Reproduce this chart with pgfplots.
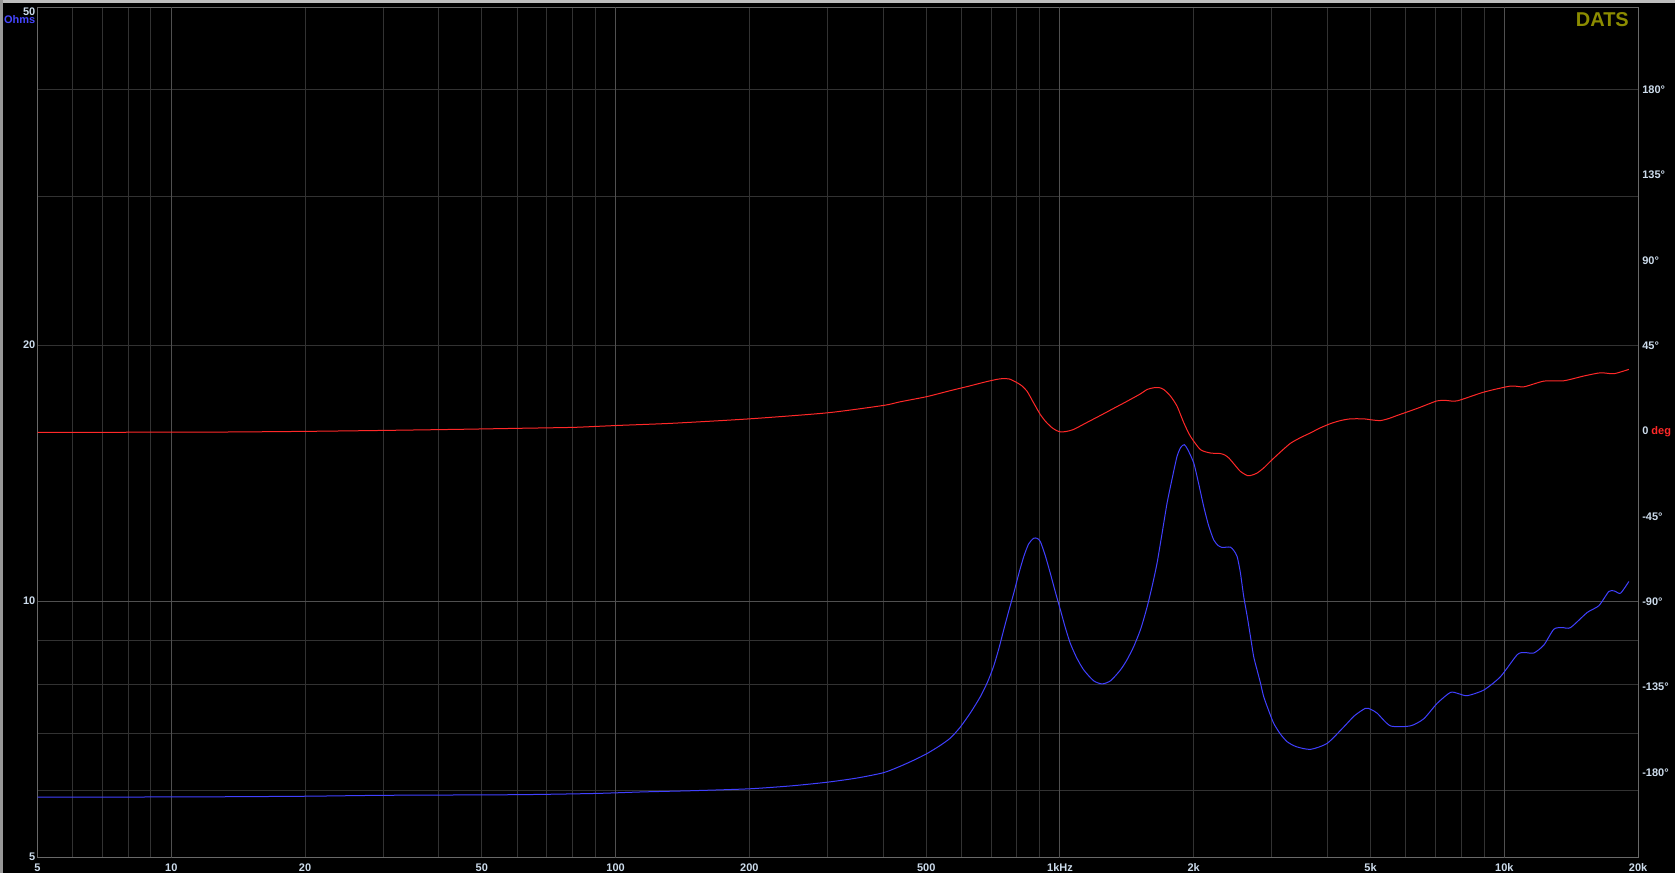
\documentclass[border=0pt]{standalone}
\usepackage{pgfplots}
\pgfplotsset{compat=1.18}
\usepackage{fontspec}
\setmainfont{Liberation Sans}
\definecolor{gridminor}{RGB}{50,50,50}
\definecolor{gridmajor}{RGB}{80,80,80}
\definecolor{framegray}{RGB}{105,105,105}
\definecolor{impblue}{RGB}{64,64,255}
\definecolor{phasered}{RGB}{255,40,40}
\definecolor{labelcol}{RGB}{205,220,236}
\definecolor{ohmsblue}{RGB}{70,70,255}
\definecolor{datscol}{RGB}{140,140,0}
\definecolor{chrome}{RGB}{190,190,190}
\newcommand\lblfont{\fontsize{11}{13}\selectfont\bfseries}

\pgfplotstableread{
f z
5 5.895
11.5 5.90
20 5.91
30 5.925
60 5.935
90 5.955
115 5.98
150 6.00
200 6.03
250 6.08
300 6.14
350 6.21
401 6.30
437 6.41
470 6.52
501 6.63
535 6.77
567 6.92
597 7.13
630 7.42
662 7.74
687 8.05
709 8.40
728 8.80
747 9.27
767 9.76
787 10.24
808 10.80
829 11.31
850 11.70
872 11.88
888 11.88
903 11.78
926 11.35
951 10.81
976 10.28
1002 9.79
1028 9.33
1055 8.94
1090 8.60
1131 8.32
1190 8.08
1244 8.01
1300 8.08
1368 8.32
1415 8.55
1465 8.86
1520 9.30
1571 9.87
1613 10.45
1654 11.11
1700 12.1
1742 13.07
1790 14.0
1834 14.83
1870 15.2
1905 15.31
1940 15.10
2000 14.57
2050 13.8
2106 12.95
2160 12.3
2218 11.83
2270 11.65
2317 11.59
2370 11.6
2419 11.6
2460 11.5
2504 11.31
2545 10.85
2591 10.15
2640 9.6
2683 9.11
2729 8.62
2780 8.30
2826 8.03
2874 7.74
2950 7.45
3027 7.20
3130 7.00
3246 6.85
3400 6.76
3662 6.71
3993 6.82
4352 7.13
4600 7.35
4869 7.50
5000 7.48
5174 7.40
5543 7.15
6146 7.15
6587 7.29
7060 7.60
7566 7.83
7900 7.80
8251 7.76
8990 7.88
9803 8.17
10690 8.67
11100 8.72
11654 8.71
12273 8.90
12926 9.29
13500 9.33
14092 9.33
15367 9.72
16322 9.90
17190 10.29
17700 10.30
18262 10.24
19066 10.57
}\imptable

\pgfplotstableread{
f p
5 0
11.8 0.1
20 0.5
30 1.0
45 1.6
60 2.1
80 2.6
92 3.2
103 3.7
135 4.8
200 7.1
300 10.3
401 14.2
437 16.1
501 18.8
567 22.0
620 24.2
680 26.6
720 27.9
741 28.3
770 28.1
800 26.2
820 24.6
843 21.7
872 15.6
903 9.4
930 5.5
960 2.4
985 0.8
1006 0.2
1035 0.5
1073 1.5
1150 5.2
1233 8.9
1320 12.6
1416 16.4
1518 20.3
1571 22.6
1625 23.5
1670 23.6
1712 22.6
1773 19.1
1834 13.8
1900 5.0
1966 -2.1
2070 -9.1
2180 -10.9
2297 -11.2
2350 -12.0
2398 -13.5
2470 -17.0
2547 -20.6
2645 -22.9
2700 -22.6
2777 -21.5
2880 -18.6
2976 -15.3
3130 -10.5
3301 -5.8
3477 -2.8
3662 -0.3
3850 2.3
4062 4.6
4280 6.2
4505 7.1
4827 7.1
5050 6.5
5264 6.2
5500 7.3
5740 8.9
6365 12.6
7060 16.6
7400 16.8
7834 16.6
8990 21.2
10327 24.4
11065 24.0
12273 27.0
13612 27.2
15098 29.7
16466 31.4
17642 30.9
19066 33.2
}\phasetable

\begin{document}
\begin{tikzpicture}
\useasboundingbox (0,0) rectangle (1675pt,873pt);
\fill[black] (0,0) rectangle (1675pt,873pt);
\fill[chrome] (0,869.5pt) rectangle (1675pt,873pt);
\fill[chrome!80!black] (0,0) rectangle (2.5pt,873pt);

\begin{axis}[
  at={(37.5pt,15pt)}, anchor=south west,
  scale only axis, width=1600.5pt, height=850.5pt,
  xmode=log, ymode=log,
  xmin=5, xmax=20000, ymin=5, ymax=50,
  axis background/.style={fill=black},
  axis line style={draw=framegray, line width=1pt},
  xtick={5,6,7,8,9,10,20,30,40,50,60,70,80,90,100,200,300,400,500,600,700,800,900,1000,2000,3000,4000,5000,6000,7000,8000,9000,10000,20000},
  xticklabels={5,,,,,10,20,,,50,,,,,100,200,,,500,,,,,1kHz,2k,,,5k,,,,,10k,20k},
  ytick={5,6,7,8,9,10,20,30,40,50},
  yticklabels={,,,,,10,20,,,},
  xminorticks=false, yminorticks=false,
  grid=major,
  major grid style={draw=gridminor, line width=1pt},
  major tick length=0pt,
  xticklabel style={anchor=base, inner sep=0pt, yshift=-14pt, text=labelcol, font=\lblfont},
  yticklabel style={anchor=mid east, inner sep=0pt, xshift=-2pt, text=labelcol, font=\lblfont},
  extra x ticks={10,100,1000,10000},
  extra x tick labels={,,,},
  extra x tick style={grid=major, major grid style={draw=gridmajor, line width=1pt}},
  extra y ticks={10},
  extra y tick labels={},
  extra y tick style={grid=major, major grid style={draw=gridmajor, line width=1pt}},
  clip=true,
]
\addplot[impblue, line width=1pt, mark=none, smooth, tension=0.4] table[x=f, y=z] {\imptable};
\end{axis}

\begin{axis}[
  at={(37.5pt,15pt)}, anchor=south west,
  scale only axis, width=1600.5pt, height=850.5pt,
  xmode=log, xmin=5, xmax=20000,
  ymin=-224.5, ymax=224.05,
  axis x line=none, axis y line*=right,
  axis line style={draw=framegray, line width=1pt},
  ytick={-180,-135,-90,-45,0,45,90,135,180},
  yticklabels={-180°,-135°,-90°,-45°,0 \textcolor{phasered}{deg},45°,90°,135°,180°},
  major tick length=0pt,
  yticklabel style={anchor=mid west, inner sep=0pt, xshift=4pt, text=labelcol, font=\lblfont},
  clip=true,
]
\addplot[phasered, line width=1pt, mark=none, smooth, tension=0.4] table[x=f, y=p] {\phasetable};
\end{axis}

\node[anchor=base east, inner sep=0pt, text=labelcol, font=\lblfont] at (35.5pt,857.5pt) {50};
\node[anchor=base east, inner sep=0pt, text=ohmsblue, font=\lblfont] at (35.5pt,849pt) {Ohms};
\node[anchor=base east, inner sep=0pt, text=labelcol, font=\lblfont] at (35.5pt,13pt) {5};
\node[anchor=base east, inner sep=0pt, text=datscol, font=\fontsize{20}{24}\selectfont\bfseries] at (1629pt,846.5pt) {DATS};
\end{tikzpicture}
\end{document}
